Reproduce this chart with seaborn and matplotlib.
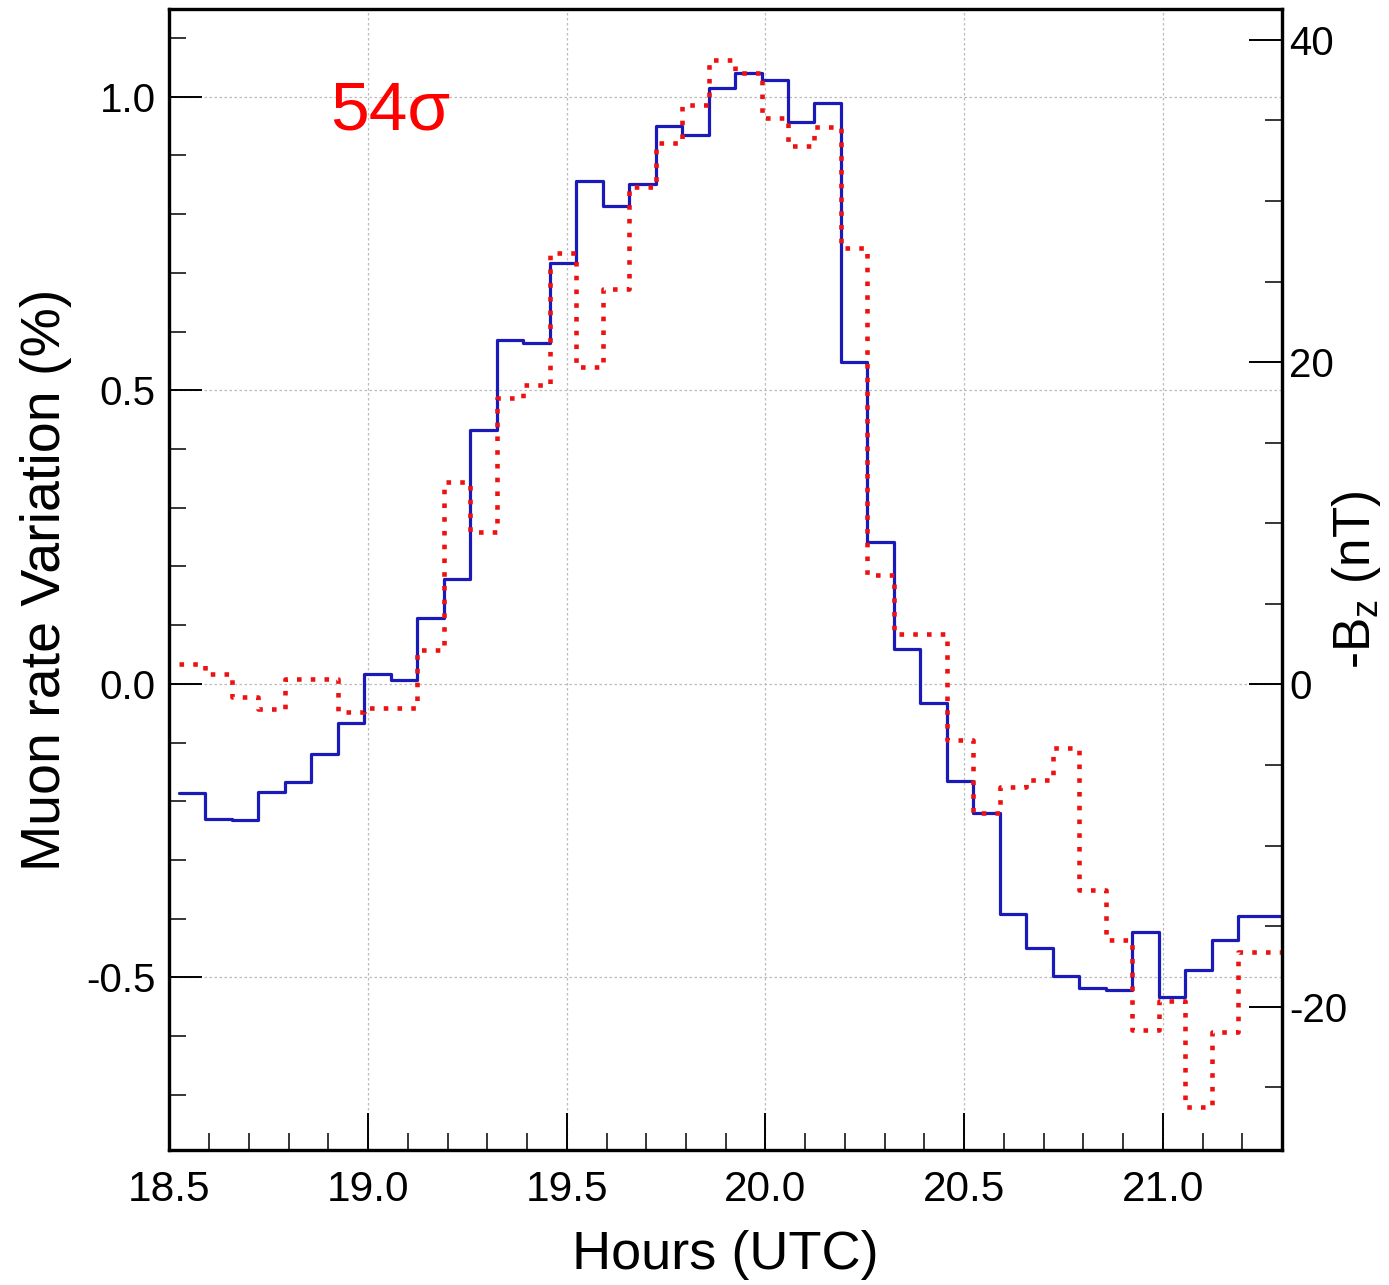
import numpy as np
import matplotlib
matplotlib.use("Agg")
import matplotlib.pyplot as plt
import seaborn as sns
from matplotlib.ticker import MultipleLocator, FormatStrFormatter

# histogram binning: 4-minute bins starting ~18:31 UTC
bin_start = 18.5233
bin_width = 1.0 / 15

# muon rate variation (%) per bin (blue, left axis)
muon_rate = [-0.186, -0.230, -0.232, -0.184, -0.167, -0.119, -0.066, 0.017, 0.007, 0.112,
             0.179, 0.433, 0.586, 0.581, 0.717, 0.857, 0.814, 0.852, 0.951, 0.935,
             1.015, 1.041, 1.029, 0.957, 0.990, 0.549, 0.242, 0.060, -0.032, -0.165,
             -0.220, -0.392, -0.450, -0.497, -0.518, -0.521, -0.422, -0.533, -0.487, -0.436,
             -0.395, -0.395]

# -Bz (nT) per bin (red dotted, right axis)
minus_bz = [1.29, 0.62, -0.79, -1.55, 0.31, 0.31, -1.72, -1.49, -1.49, 2.11,
            12.57, 9.46, 17.75, 18.57, 26.75, 19.71, 24.52, 30.87, 33.60, 35.96,
            38.76, 37.95, 35.16, 33.42, 34.62, 27.06, 6.77, 3.15, 3.15, -3.43,
            -7.99, -6.38, -5.96, -3.93, -12.75, -15.86, -21.45, -19.63, -26.25, -21.60,
            -16.63, -16.63]

edges = bin_start + bin_width * np.arange(len(muon_rate) + 1)
blue_y = np.append(muon_rate, muon_rate[-1])
red_y = np.append(minus_bz, minus_bz[-1])

sns.set_style("ticks")
plt.rcParams['font.family'] = ['Liberation Sans', 'DejaVu Sans']
plt.rcParams['mathtext.fontset'] = 'custom'
plt.rcParams['mathtext.rm'] = 'Liberation Sans'
plt.rcParams['axes.unicode_minus'] = False
for k in ('text.color', 'axes.labelcolor', 'xtick.color', 'ytick.color'):
    plt.rcParams[k] = 'black'

fig = plt.figure(figsize=(13.89, 12.85), dpi=100)
ax = fig.add_axes([0.122, 0.105, 0.801, 0.8878])
ax2 = ax.twinx()

sns.lineplot(x=edges, y=blue_y, drawstyle='steps-post', color='#1a1ab8', lw=2.3, ax=ax)
sns.lineplot(x=edges, y=red_y, drawstyle='steps-post', color='#ee1111', lw=3.3, ax=ax2)
ax2.get_lines()[0].set_linestyle((0, (1, 2)))
ax2.get_lines()[0].set_dash_capstyle('butt')

ax.set_xlim(18.5, 21.3)
ax.set_ylim(-0.794, 1.149)
ax2.set_ylim(-28.9, 41.9)

ax.xaxis.set_major_locator(MultipleLocator(0.5))
ax.xaxis.set_minor_locator(MultipleLocator(0.1))
ax.yaxis.set_major_locator(MultipleLocator(0.5))
ax.yaxis.set_minor_locator(MultipleLocator(0.1))
ax.xaxis.set_major_formatter(FormatStrFormatter('%.1f'))
ax.yaxis.set_major_formatter(FormatStrFormatter('%.1f'))
ax2.yaxis.set_major_locator(MultipleLocator(20))
ax2.yaxis.set_minor_locator(MultipleLocator(5))

ax.grid(True, which='major', color='#bbbbbb', lw=0.9, linestyle=(0, (2, 2)))
ax2.grid(False)

ax.tick_params(axis='x', which='major', direction='in', length=27, width=1.4, labelsize=30.5, pad=14)
ax.tick_params(axis='x', which='minor', direction='in', length=12, width=1.1)
ax.tick_params(axis='y', which='major', direction='in', length=24, width=1.4, labelsize=29, pad=10)
ax.tick_params(axis='y', which='minor', direction='in', length=12, width=1.1)
ax2.tick_params(axis='y', which='major', direction='in', length=24, width=1.4, labelsize=29, pad=5)
ax2.tick_params(axis='y', which='minor', direction='in', length=12, width=1.1)

for a in (ax, ax2):
    for s in a.spines.values():
        s.set_linewidth(2.3)
        s.set_color('black')

ax.set_xlabel('Hours (UTC)', fontsize=39)
ax.set_ylabel('Muon rate Variation (%)', fontsize=40)
ax2.set_ylabel(r'-B$_{\mathrm{z}}$ (nT)', fontsize=37)
ax.xaxis.set_label_coords(0.5, -0.07)
ax.yaxis.set_label_coords(-0.088, 0.5)
ax2.yaxis.set_label_coords(1.043, 0.5)

ax.text(18.905, 0.944, '54σ', color='#ff0000', fontsize=50, va='baseline', ha='left')

plt.savefig('out.png', dpi=100)
